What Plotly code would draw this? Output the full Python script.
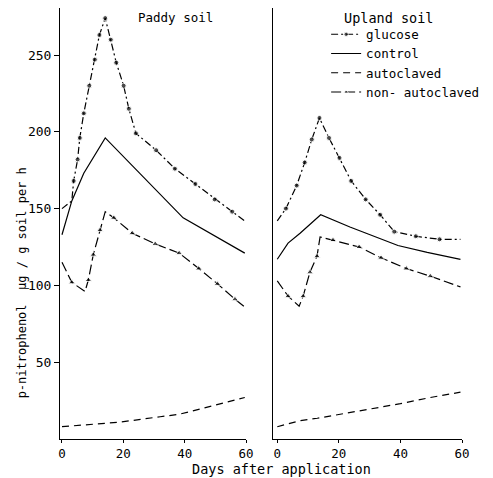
import plotly.graph_objects as go

# ---------------- data ----------------
# Paddy soil
paddy_glucose_days = [0, 3.2, 3.8, 5.1, 5.8, 7.1, 8.9, 10.7, 12.2, 14.1, 15.9, 17.7, 20.1, 21.8, 24.1, 30.7, 36.8, 43.5, 49.8, 55.5, 59.6]
paddy_glucose_vals = [150, 155, 168, 182, 196, 212, 230, 247, 263, 274, 260, 245, 230, 215, 199, 188, 176, 166, 156, 148, 142]
paddy_glucose_dot = [0, 0, 1, 1, 1, 1, 1, 1, 1, 1, 1, 1, 1, 1, 1, 1, 1, 1, 1, 1, 0]

paddy_control_days = [0, 3.2, 7.1, 14.1, 39.5, 59.6]
paddy_control_vals = [133, 155, 173, 196, 144, 121]

paddy_auto_days = [0, 19, 32, 38, 46, 59.6]
paddy_auto_vals = [8, 11, 14.5, 16, 20, 27]

paddy_non_days = [0, 3.2, 7.5, 8.6, 10.2, 12.4, 14.1, 16.9, 22.9, 30.4, 38.2, 44.6, 50.7, 56.4, 59.6]
paddy_non_vals = [115, 102, 96, 103.5, 120, 136, 148, 144, 134, 127, 121, 111, 101, 91, 86]
paddy_non_tri = [0, 1, 0, 1, 1, 1, 0, 1, 1, 1, 1, 1, 1, 1, 0]

# Upland soil
upland_glucose_days = [0, 2.8, 6.3, 8.9, 11.2, 13.7, 16.8, 20.2, 24, 28.7, 33.4, 38, 45, 52.7, 59.5]
upland_glucose_vals = [142, 150, 165, 180, 195, 209, 196, 183, 168, 156, 146, 135, 132, 130, 130]
upland_glucose_dot = [0, 1, 1, 1, 1, 1, 1, 1, 1, 1, 1, 1, 1, 1, 0]

upland_control_days = [0, 3.5, 7.4, 14.1, 23.6, 39.2, 48.7, 59.5]
upland_control_vals = [117, 127.5, 134, 146, 138, 126, 121.5, 117]

upland_auto_days = [0, 7.5, 13, 24.7, 40, 49.7, 59.5]
upland_auto_vals = [8, 12, 13.5, 17.5, 23, 27, 30.5]

upland_non_days = [0, 3.5, 7.1, 8.4, 10.6, 12.9, 13.9, 18.1, 26.6, 33.7, 41.9, 49.7, 59.5]
upland_non_vals = [103, 93, 86.5, 93, 108.5, 119, 131.5, 129.5, 125, 118, 111, 106, 99]
upland_non_tri = [0, 1, 0, 1, 1, 1, 0, 1, 1, 1, 1, 1, 0]

series_names = ["glucose", "control", "autoclaved", "non- autoclaved"]
x_ticks = [0, 20, 40, 60]
y_ticks = [50, 100, 150, 200, 250]

FONT = "DejaVu Sans Mono"
LW = 1.2

fig = go.Figure()


def add_panel(xa, ya, g_d, g_v, g_dot, c_d, c_v, a_d, a_v, n_d, n_v, n_tri, show):
    fig.add_trace(go.Scatter(
        x=g_d, y=g_v, xaxis=xa, yaxis=ya, mode="lines+markers",
        name=series_names[0], showlegend=show, legendrank=1,
        line=dict(color="black", width=LW, dash="7px,3px,2px,3px"),
        marker=dict(symbol="circle", color="black", size=[5 * s for s in g_dot])))
    fig.add_trace(go.Scatter(
        x=c_d, y=c_v, xaxis=xa, yaxis=ya, mode="lines",
        name=series_names[1], showlegend=show, legendrank=2,
        line=dict(color="black", width=LW)))
    fig.add_trace(go.Scatter(
        x=a_d, y=a_v, xaxis=xa, yaxis=ya, mode="lines",
        name=series_names[2], showlegend=show, legendrank=3,
        line=dict(color="black", width=LW, dash="7px,5px")))
    fig.add_trace(go.Scatter(
        x=n_d, y=n_v, xaxis=xa, yaxis=ya, mode="lines+markers",
        name=series_names[3], showlegend=show, legendrank=4,
        line=dict(color="black", width=LW, dash="10px,4px"),
        marker=dict(symbol="triangle-up", color="black", size=[6 * s for s in n_tri])))


add_panel("x", "y", paddy_glucose_days, paddy_glucose_vals, paddy_glucose_dot,
          paddy_control_days, paddy_control_vals, paddy_auto_days, paddy_auto_vals,
          paddy_non_days, paddy_non_vals, paddy_non_tri, False)
add_panel("x2", "y2", upland_glucose_days, upland_glucose_vals, upland_glucose_dot,
          upland_control_days, upland_control_vals, upland_auto_days, upland_auto_vals,
          upland_non_days, upland_non_vals, upland_non_tri, True)

xcommon = dict(showline=True, linecolor="black", linewidth=1, ticks="outside", ticklen=3,
               tickcolor="black", tickvals=x_ticks, showgrid=False, zeroline=False,
               tickfont=dict(family=FONT, size=12.5, color="black"))

# page body has an 8px margin, so the figure is 8px smaller and margins shifted
fig.update_layout(
    width=485, height=470,
    margin=dict(l=52, r=31, t=0, b=39),
    paper_bgcolor="white", plot_bgcolor="white",
    font=dict(family=FONT, size=13, color="black"),
    xaxis=dict(domain=[0, 0.4627], range=[-0.65, 60], **xcommon),
    xaxis2=dict(domain=[0.531, 1.0], range=[-1.24, 60], **xcommon),
    yaxis=dict(range=[0, 280.6], anchor="x", showline=True, linecolor="black", linewidth=1,
               ticks="outside", ticklen=5, tickcolor="black", tickvals=y_ticks,
               showgrid=False, zeroline=False,
               tickfont=dict(family=FONT, size=13, color="black")),
    yaxis2=dict(range=[0, 280.6], anchor="x2", showline=True, linecolor="black", linewidth=1,
                ticks="", showticklabels=False, showgrid=False, zeroline=False),
    showlegend=True,
    legend=dict(x=0.662, y=0.973, xanchor="left", yanchor="top",
                bgcolor="rgba(0,0,0,0)", borderwidth=0,
                font=dict(family=FONT, size=12.5, color="black"),
                itemwidth=30, tracegroupgap=0),
    annotations=[
        dict(text="Paddy soil", x=0.2864, y=0.977, xref="paper", yref="paper",
             showarrow=False, xanchor="center", yanchor="middle",
             font=dict(family=FONT, size=12.5, color="black")),
        dict(text="Upland soil", x=0.818, y=0.977, xref="paper", yref="paper",
             showarrow=False, xanchor="center", yanchor="middle",
             font=dict(family=FONT, size=13.5, color="black")),
        dict(text="Days after application", x=0.55, y=-0.07, xref="paper", yref="paper",
             showarrow=False, xanchor="center", yanchor="middle",
             font=dict(family=FONT, size=13.5, color="black")),
        dict(text="p-nitrophenol  µg / g soil per h", x=-0.095, y=0.363, xref="paper",
             yref="paper", showarrow=False, textangle=-90, xanchor="center", yanchor="middle",
             font=dict(family=FONT, size=12, color="black")),
    ],
)

fig.write_html("out.html")
